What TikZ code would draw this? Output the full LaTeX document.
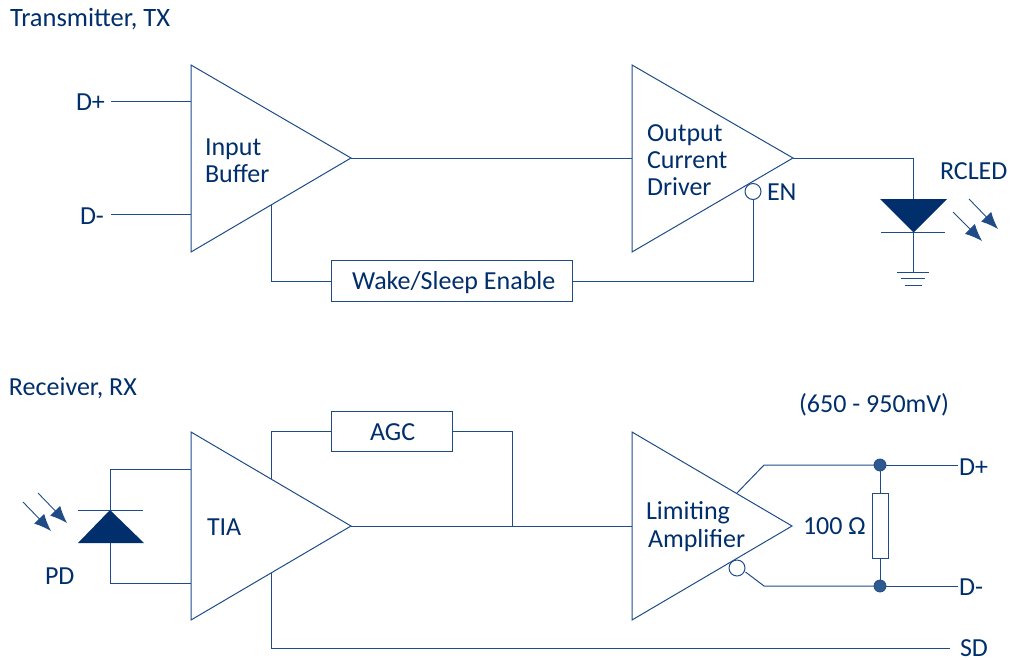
\documentclass[tikz,border=0pt]{standalone}
\usepackage{fontspec}
\setmainfont{Carlito}
\usetikzlibrary{arrows.meta}
\definecolor{ink}{HTML}{002F6C}
\definecolor{wire}{HTML}{1F4C86}
\definecolor{dotc}{HTML}{2F5A90}
\tikzset{
  wireline/.style={draw=wire,line width=1pt,line join=miter},
  label/.style={text=ink,font=\fontsize{26}{26}\selectfont,inner sep=0pt,outer sep=0pt},
  leftlabel/.style={label,anchor=base west},
  headlabel/.style={leftlabel,font=\fontsize{26.5}{26.5}\selectfont},
  boxnode/.style={wireline,fill=white,inner sep=0pt,outer sep=0pt,minimum width=#1,minimum height=40.5pt},
  bubble/.style={circle,draw=wire,line width=1pt,fill=white,minimum size=16pt,inner sep=0pt,outer sep=0pt},
  joint/.style={circle,draw=wire,line width=0.8pt,fill=dotc,minimum size=12pt,inner sep=0pt,outer sep=0pt},
  ray/.style={draw=wire,line width=0.9pt,-{Latex[length=17pt,width=14pt]}},
  resistor/.style={wireline,fill=white,minimum width=16pt,minimum height=65pt,inner sep=0pt,outer sep=0pt}
}
\begin{document}
\begin{tikzpicture}[x=1pt,y=-1pt]
\useasboundingbox (0,0) rectangle (1011,659);

% ---------- amplifier triangles
\coordinate (t1a) at (191,65); \coordinate (t1b) at (191,252); \coordinate (t1o) at (351,158);
\coordinate (t2a) at (632,65); \coordinate (t2b) at (632,252); \coordinate (t2o) at (793,158);
\coordinate (t3a) at (191,432); \coordinate (t3b) at (191,620); \coordinate (t3o) at (351,526);
\coordinate (t4a) at (632,432); \coordinate (t4b) at (632,620); \coordinate (t4o) at (792,526);
\draw[wireline] (t1a) -- (t1b) -- (t1o) -- cycle;
\draw[wireline] (t2a) -- (t2b) -- (t2o) -- cycle;
\draw[wireline] (t3a) -- (t3b) -- (t3o) -- cycle;
\draw[wireline] (t4a) -- (t4b) -- (t4o) -- cycle;

% ---------- headings and labels
\node[headlabel] (txhead) at (10,26) {Transmitter, TX};
\node[leftlabel] (rxhead) at (9,395) {Receiver, RX};
\node[leftlabel] (dpin) at (76,110) {D+};
\node[leftlabel] (dmin) at (80,224) {D-};
\node[leftlabel] (ib1) at (205,155) {Input};
\node[leftlabel] (ib2) at (205,182) {Buffer};
\node[leftlabel] (ocd1) at (647,141) {Output};
\node[leftlabel] (ocd2) at (647,168) {Current};
\node[leftlabel] (ocd3) at (647,195) {Driver};
\node[leftlabel] (en) at (767,200) {EN};
\node[leftlabel] (rcled) at (940,179) {RCLED};
\node[leftlabel] (tia) at (207,535) {TIA};
\node[leftlabel] (pd) at (45,584) {PD};
\node[leftlabel] (lim1) at (646,519) {Limiting};
\node[leftlabel] (lim2) at (648,547) {Amplifier};
\node[leftlabel] (ohm) at (803,534) {100 Ω};
\node[leftlabel] (mv) at (799,412) {(650 - 950mV)};
\node[leftlabel] (dpout) at (959,475) {D+};
\node[leftlabel] (dmout) at (959,595) {D-};
\node[leftlabel] (sd) at (960,656) {SD};

% ---------- boxes
\node[boxnode=241pt] (wake) at (451.5,281) {};
\node[boxnode=121pt] (agc) at (391.5,431.5) {};
\node[leftlabel] (waket) at (352,289) {Wake/Sleep Enable};
\node[leftlabel] (agct) at (370,440) {AGC};

% ---------- TX wiring
\coordinate (d1) at (111,101); \coordinate (d2) at (111,214);
\coordinate (t1in1) at (191,101); \coordinate (t1in2) at (191,214);
\coordinate (t1fb) at (271,205);
\draw[wireline] (d1) -- (t1in1);
\draw[wireline] (d2) -- (t1in2);
\draw[wireline] (t1o) -- (632,158);
\draw[wireline] (t1fb) |- (wake.west);
\node[bubble] (enb) at (753,191.5) {};
\draw[wireline] (wake.east) -| (enb.south);

% LED
\coordinate (ledl) at (880,199); \coordinate (ledr) at (947,199); \coordinate (leda) at (913.5,232.5);
\coordinate (gnd) at (913.5,272.5);
\draw[wireline] (t2o) -| (913.5,199);
\fill[ink] (ledl) -- (ledr) -- (leda) -- cycle;
\draw[wireline] (881,232.5) -- (945,232.5);
\draw[wireline] (leda) -- (gnd);
\draw[wireline] (897,272.5) -- (929,272.5);
\draw[wireline] (901,278.7) -- (925,278.7);
\draw[wireline] (905,285) -- (922,285);
\coordinate (r1s) at (969,199); \coordinate (r1e) at (998,229);
\coordinate (r2s) at (953,212); \coordinate (r2e) at (982,241);
\draw[ray] (r1s) -- (r1e);
\draw[ray] (r2s) -- (r2e);

% ---------- RX wiring
\coordinate (pdt) at (110,510); \coordinate (pdb) at (110,543);
\draw[wireline] (pdt) -- (110,469) -- (191,469);
\draw[wireline] (pdb) -- (110,583) -- (191,583);
\fill[ink] (78,543) -- (144,543) -- (pdt) -- cycle;
\draw[wireline] (78,510) -- (143,510);
\coordinate (p1s) at (38,493); \coordinate (p1e) at (67,523);
\coordinate (p2s) at (23,502); \coordinate (p2e) at (51,531);
\draw[ray] (p1s) -- (p1e);
\draw[ray] (p2s) -- (p2e);

\coordinate (t3top) at (271,479); \coordinate (t3bot) at (271,573);
\coordinate (jn) at (512,526); \coordinate (sdw) at (950,648);
\draw[wireline] (t3top) |- (agc.west);
\draw[wireline] (agc.east) -| (jn);
\draw[wireline] (t3o) -- (632,526);
\draw[wireline] (t3bot) |- (sdw);

% outputs
\node[joint] (j1) at (880,465) {};
\node[joint] (j2) at (880,586) {};
\node[resistor] (res) at (880,525.5) {};
\node[bubble] (outb) at (737,568) {};
\coordinate (o1) at (737,493); \coordinate (o2) at (745.5,572);
\coordinate (e1) at (958,465); \coordinate (e2) at (958,586);
\draw[wireline] (o1) -- (764,465) -- (j1.west);
\draw[wireline] (j1.east) -- (e1);
\draw[wireline] (o2) -- (764,586) -- (j2.west);
\draw[wireline] (j2.east) -- (e2);
\draw[wireline] (j1) -- (res.north);
\draw[wireline] (res.south) -- (j2);
\end{tikzpicture}
\end{document}
